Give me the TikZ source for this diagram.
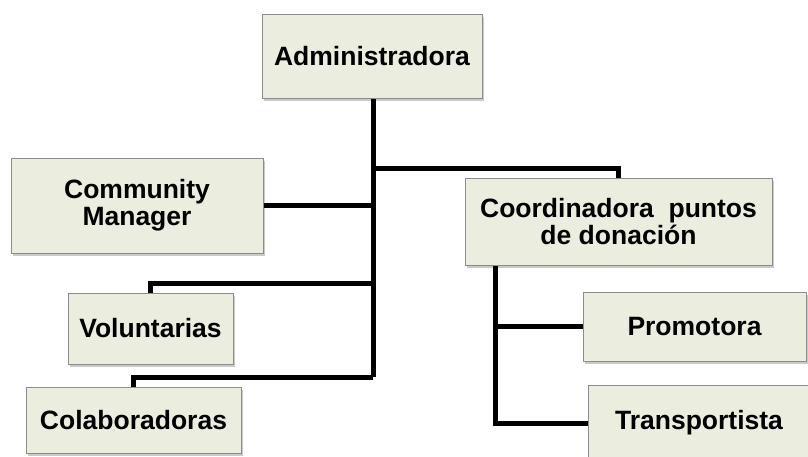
\documentclass[tikz,border=0pt]{standalone}
\usepackage{fontspec}
\setmainfont{Liberation Sans}
\usetikzlibrary{shadows}
\definecolor{boxfill}{HTML}{EBEEDE}
\definecolor{boxline}{HTML}{8C8C8C}
\tikzset{
  orgbox/.style={draw=boxline, line width=1pt, fill=boxfill, align=center,
    font=\fontsize{26.5}{27}\selectfont\bfseries, inner sep=0pt,
    drop shadow={shadow xshift=1.5pt, shadow yshift=-3pt, opacity=0.35, fill=black!60}},
  link/.style={line width=5pt, black}
}
\begin{document}
\begin{tikzpicture}[x=1pt,y=-1pt]
\useasboundingbox (0,0) rectangle (808,456);
\begin{scope}
\clip (0,0) rectangle (808,456);
\node[orgbox, minimum width=220, minimum height=84] (admin) at (372,56) {Administradora};
\node[orgbox, minimum width=252, minimum height=95] (comm) at (137,205.5) {Community\\Manager};
\node[orgbox, minimum width=307, minimum height=87] (coord) at (618.5,221.5) {Coordinadora\ \ puntos\\de donación};
\node[orgbox, minimum width=165, minimum height=71] (vol) at (150.5,328.5) {Voluntarias};
\node[orgbox, minimum width=215, minimum height=66] (col) at (133.5,420) {Colaboradoras};
\node[orgbox, minimum width=223, minimum height=69] (prom) at (694.5,326.5) {Promotora};
\node[orgbox, minimum width=222, minimum height=76] (trans) at (699,423) {Transportista};

\coordinate (tbot) at (373,377);
\coordinate (tcoord) at (373,168);
\coordinate (tvol) at (373,283);
\coordinate (ctop) at (495,265.5);
\coordinate (cbot) at (495,423);

\draw[link] (admin.south -| tbot) -- (tbot);
\draw[link] (tcoord) -| (coord.north);
\draw[link] (comm.east) -- (comm.east -| tbot);
\draw[link] (tvol) -| (vol.north);
\draw[link] (tbot) -| (col.north);
\draw[link] (ctop) -- (cbot) -- (trans.west);
\draw[link] (prom.west -| ctop) -- (prom.west);
\end{scope}
\end{tikzpicture}
\end{document}
